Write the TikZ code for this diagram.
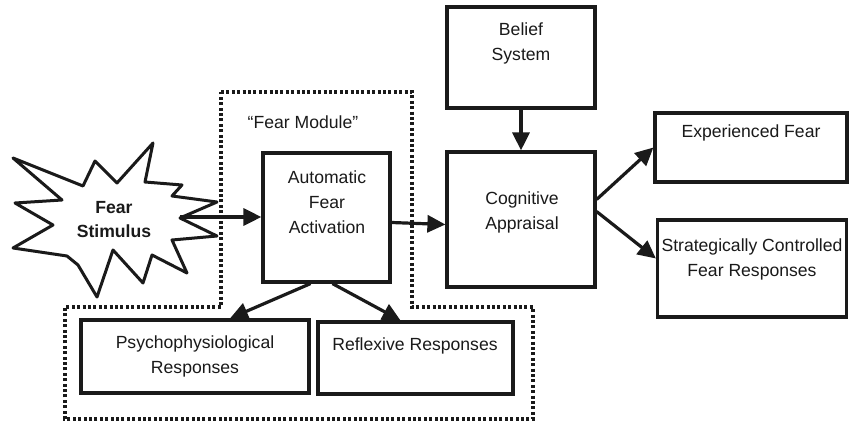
\documentclass[tikz,border=0pt]{standalone}
\usepackage{fontspec}
\setmainfont{Liberation Sans}
\usetikzlibrary{arrows.meta,calc}
\definecolor{ink}{HTML}{1A1A1A}
\begin{document}
\begin{tikzpicture}[x=1pt,y=-1pt,
  box/.style={draw=ink,line width=3.2pt,fill=white,inner sep=0pt},
  txt/.style={text=ink,font=\fontsize{17.6pt}{25pt}\selectfont,align=center,inner sep=0pt},
  arr/.style={draw=ink,line width=3.2pt,-{Triangle[length=18pt,width=17pt]}},
  module/.style={draw=ink,line width=3.2pt,dash pattern=on 3pt off 2.4pt},
  burst/.style={draw=ink,line width=3pt,fill=white,line join=round}]
\useasboundingbox (0,0) rectangle (849,425);

% dashed fear module outline
\draw[module] (221,92) -- (412,92) -- (412,307) -- (533,307) -- (533,419)
  -- (65,419) -- (65,307) -- (221,307) -- cycle;
\node[txt] (modlabel) at (303,122) {“Fear Module”};

% fear stimulus burst
\draw[burst] (13,158)--(83,186)--(95,161)--(117,183)--(153,143)--(145,182)--(182,185)
  --(172,196)--(217,202)--(180,218)--(217,236)--(172,240)--(187,273)--(152,255)
  --(143,283)--(113,250)--(97,297)--(78,265)--(67,256)--(13,248)--(53,225)
  --(15,203)--(62,200)--cycle;
\coordinate (starR) at (180,217);
\node[txt,font=\bfseries\fontsize{17.6pt}{24pt}\selectfont] (stim) at (114,220) {Fear\\Stimulus};

% boxes
\node[box,minimum width=148pt,minimum height=101pt] (belief) at (521,57.5) {};
\node[txt] (beliefT) at (521,43.5) {Belief\\System};

\node[box,minimum width=148pt,minimum height=135pt] (cog) at (521,219.5) {};
\node[txt] (cogT) at (522,212.5) {Cognitive\\Appraisal};

\node[box,minimum width=127pt,minimum height=129pt] (auto) at (326.5,217.5) {};
\node[txt] (autoT) at (327,202) {Automatic\\Fear\\Activation};

\node[box,minimum width=192pt,minimum height=69pt] (exp) at (751,147.5) {};
\node[txt] (expT) at (751,133) {Experienced Fear};

\node[box,minimum width=189pt,minimum height=97pt] (strat) at (752,268.5) {};
\node[txt] (stratT) at (752,259) {Strategically Controlled\\Fear Responses};

\node[box,minimum width=228pt,minimum height=73pt] (psycho) at (195,356.5) {};
\node[txt] (psychoT) at (195,356) {Psychophysiological\\Responses};

\node[box,minimum width=195pt,minimum height=72pt] (reflex) at (415.5,358) {};
\node[txt] (reflexT) at (415,346) {Reflexive Responses};

% connectors
\draw[arr] (starR) -- (auto.west |- starR);
\draw[arr] ([yshift=-5pt]auto.east) -- ([yshift=-5pt]cog.west);
\draw[arr] (belief.south) -- (cog.north);
\draw[arr] ([xshift=-16pt]auto.south) -- ([xshift=35pt]psycho.north);
\draw[arr] ([xshift=6pt]auto.south) -- ([xshift=-15pt]reflex.north);
\draw[arr] ([yshift=20pt]cog.east) -- (exp.west);
\draw[arr] ([yshift=8pt]cog.east) -- ([yshift=10pt]strat.west);
\end{tikzpicture}
\end{document}
